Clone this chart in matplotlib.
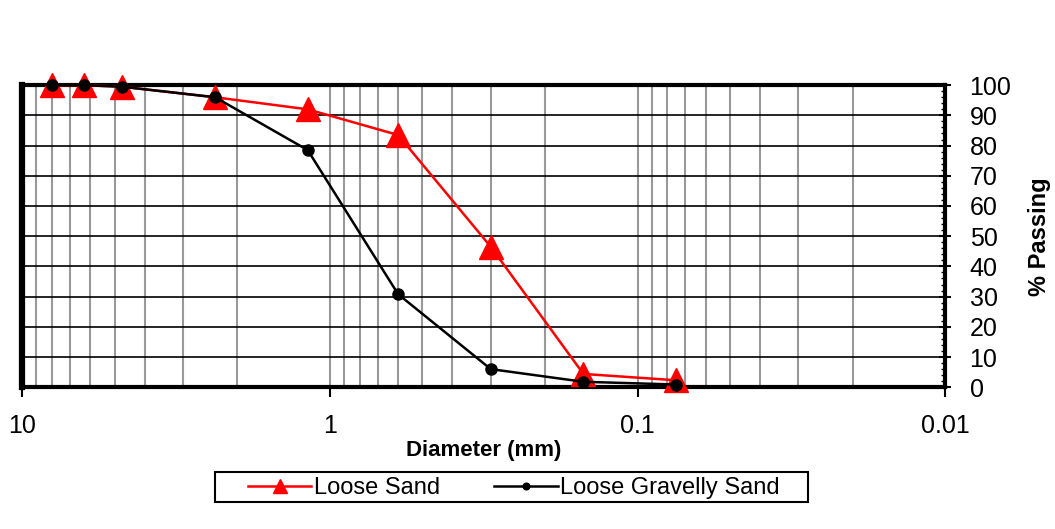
import numpy as np
import matplotlib.pyplot as plt
from matplotlib.patches import Rectangle
from matplotlib.ticker import LogLocator, NullFormatter, MultipleLocator

plt.rcParams['font.family'] = ['Liberation Sans', 'DejaVu Sans']

# sieve sizes (mm) and percent passing
diameter = [8.0, 6.3, 4.75, 2.36, 1.18, 0.6, 0.3, 0.15, 0.075]
loose_sand = [100, 100, 99.5, 96, 92, 83.5, 46.5, 4.4, 2.3]
gravelly_sand = [100, 100, 99.5, 96, 78.5, 30.8, 6.0, 1.8, 0.9]

fig = plt.figure(figsize=(10.55, 5.29), dpi=100)
ax = fig.add_axes([0.021, 0.268, 0.875, 0.571])

ax.plot(diameter, loose_sand, color='red', lw=1.8, marker='^', ms=17,
        label='Loose Sand', clip_on=False, zorder=4)
ax.plot(diameter, gravelly_sand, color='black', lw=1.8, marker='o', ms=8,
        label='Loose Gravelly Sand', clip_on=False, zorder=5)

ax.set_xscale('log')
ax.set_xlim(10, 0.01)
ax.set_ylim(0, 100)

ax.xaxis.set_major_locator(LogLocator(base=10))
ax.xaxis.set_minor_locator(LogLocator(base=10, subs=np.arange(2, 10)))
ax.xaxis.set_minor_formatter(NullFormatter())
ax.set_xticks([10, 1, 0.1, 0.01])
ax.set_xticklabels(['10', '1', '0.1', '0.01'])

ax.yaxis.set_major_locator(MultipleLocator(10))
ax.yaxis.set_minor_locator(MultipleLocator(2))
ax.yaxis.tick_right()
ax.yaxis.set_label_position('right')

ax.grid(True, which='both', axis='x', color='#999999', lw=1.5)
ax.grid(True, which='major', axis='y', color='black', lw=1.2)
ax.set_axisbelow(True)

for side, w in [('left', 4.5), ('top', 3), ('bottom', 3), ('right', 3)]:
    ax.spines[side].set_linewidth(w)

ax.tick_params(axis='x', which='major', direction='out', length=7, width=1.5,
               labelsize=18, pad=12)
ax.tick_params(axis='x', which='minor', length=0)
ax.tick_params(axis='y', which='major', direction='inout', length=9, width=1.5,
               labelsize=18, pad=13)
ax.tick_params(axis='y', which='minor', direction='in', length=3, width=1)

ax.set_xlabel('Diameter (mm)', fontsize=16, fontweight='bold', labelpad=2)
ax.set_ylabel('% Passing', fontsize=17, fontweight='bold', labelpad=12)

# legend entries without their own frame, boxed by a wider rectangle
leg = fig.legend(loc='center', bbox_to_anchor=(0.487, 0.077), ncol=2,
                 fontsize=17, frameon=False,
                 handlelength=2.7, handletextpad=0.1, columnspacing=2.3,
                 borderpad=0.15, borderaxespad=0, markerscale=0.6)
fig.patches.append(Rectangle((215 / 1055, 1 - 502 / 529), 593 / 1055, 30 / 529,
                             transform=fig.transFigure, fill=False,
                             edgecolor='black', lw=1.5))

fig.savefig('out.png', dpi=100)
